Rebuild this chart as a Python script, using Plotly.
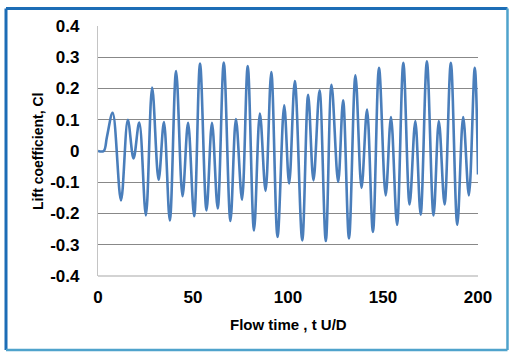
import plotly.graph_objects as go

# Flow time (t U/D) at the turning points of the lift signal
flow_time = [
    0.0, 3.0, 4.7, 7.7, 12.1, 15.7, 18.7, 21.7, 25.2, 28.5, 31.9, 34.7, 37.8,
    41.1, 44.5, 47.4, 50.6, 53.7, 57.1, 60.0, 63.0, 66.2, 69.7, 72.6, 75.8,
    78.8, 82.1, 85.2, 88.2, 91.2, 94.5, 98.0, 100.6, 103.6, 107.5, 110.6,
    113.4, 116.6, 119.9, 122.9, 126.4, 129.0, 132.1, 135.5, 138.7, 141.6,
    144.7, 147.9, 151.4, 154.2, 157.4, 160.7, 164.0, 167.0, 169.8, 173.1,
    176.6, 179.4, 182.4, 185.7, 189.1, 192.2, 195.2, 198.3, 200.0,
]

# Lift coefficient Cl at those times
lift_coeff = [
    0.0, 0.0, 0.045, 0.122, -0.158, 0.100, -0.024, 0.091, -0.206, 0.203,
    -0.092, 0.093, -0.222, 0.256, -0.145, 0.090, -0.209, 0.280, -0.190,
    0.090, -0.184, 0.283, -0.224, 0.102, -0.156, 0.272, -0.254, 0.120,
    -0.128, 0.253, -0.275, 0.146, -0.104, 0.224, -0.286, 0.180, -0.094,
    0.194, -0.288, 0.212, -0.099, 0.162, -0.280, 0.242, -0.118, 0.133,
    -0.259, 0.266, -0.142, 0.109, -0.236, 0.282, -0.171, 0.096, -0.204,
    0.287, -0.206, 0.096, -0.171, 0.282, -0.236, 0.109, -0.142, 0.266,
    -0.075,
]

x_ticks = [0, 50, 100, 150, 200]
x_tick_text = ["0", "50", "100", "150", "200"]
y_ticks = [-0.4, -0.3, -0.2, -0.1, 0, 0.1, 0.2, 0.3, 0.4]
y_tick_text = ["-0.4", "-0.3", "-0.2", "-0.1", "0", "0.1", "0.2", "0.3", "0.4"]

FONT = "Liberation Sans, Arial, sans-serif"
tick_font = dict(family=FONT, size=17, color="#000000")

fig = go.Figure()
fig.add_trace(go.Scatter(
    x=flow_time, y=lift_coeff, mode="lines",
    line=dict(color="#4a7ebb", width=2.6, shape="spline", smoothing=1.0),
    hoverinfo="skip", showlegend=False,
))

fig.update_layout(
    width=510, height=352,
    margin=dict(l=98, r=32, t=26, b=76),
    paper_bgcolor="#ffffff", plot_bgcolor="#ffffff",
    xaxis=dict(
        range=[0, 200], tickvals=x_ticks,
        ticktext=[f"<b>{t}</b>" for t in x_tick_text],
        showgrid=False, zeroline=False, showline=False,
        ticks="", ticklabelstandoff=9, tickfont=tick_font,
    ),
    yaxis=dict(
        range=[-0.4, 0.4], tickvals=y_ticks,
        ticktext=[f"<b>{t}</b>" for t in y_tick_text],
        showgrid=True, gridcolor="#888888", gridwidth=1.2,
        zeroline=False, showline=True, linecolor="#c4c4c4", linewidth=1.2,
        ticks="", ticklabelstandoff=14, tickfont=tick_font,
    ),
    annotations=[
        dict(text="<b>Flow time , t U/D</b>", xref="paper", yref="paper",
             x=0.5, y=-0.192, showarrow=False, xanchor="center", yanchor="middle",
             font=dict(family=FONT, size=15, color="#000000")),
        dict(text="<b>Lift coefficient, Cl</b>", xref="paper", yref="paper",
             x=-0.158, y=0.5, showarrow=False, textangle=-90,
             xanchor="center", yanchor="middle",
             font=dict(family=FONT, size=14, color="#000000")),
    ],
    shapes=[
        # light axis line along the bottom of the plot area
        dict(type="line", xref="paper", yref="paper", x0=0, x1=1, y0=0, y1=0,
             line=dict(color="#c4c4c4", width=1.5)),
        # outer frame: darker blue on top/left, lighter blue on right/bottom
        dict(type="line", xref="paper", yref="paper", x0=-0.2421, x1=1.0776,
             y0=1.070, y1=1.070, line=dict(color="#1c6db6", width=3)),
        dict(type="line", xref="paper", yref="paper", x0=-0.2421, x1=-0.2421,
             y0=1.070, y1=-0.296, line=dict(color="#1c6db6", width=3)),
        dict(type="line", xref="paper", yref="paper", x0=1.0776, x1=1.0776,
             y0=1.070, y1=-0.296, line=dict(color="#4fa3cc", width=2.5)),
        dict(type="line", xref="paper", yref="paper", x0=-0.2421, x1=1.0776,
             y0=-0.296, y1=-0.296, line=dict(color="#4fa3cc", width=2.5)),
    ],
)

fig.write_html("out.html")
